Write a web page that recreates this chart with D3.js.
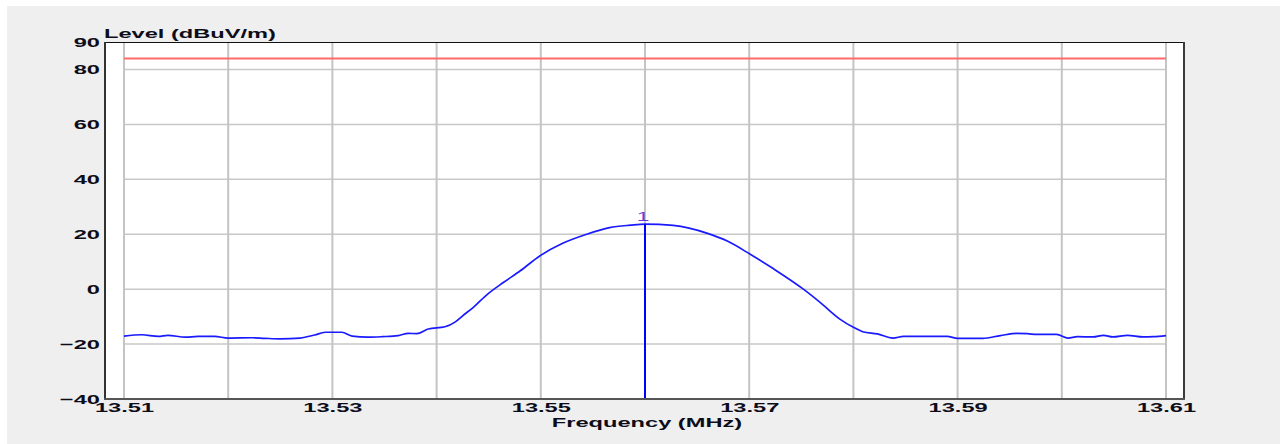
<!DOCTYPE html>
<html>
<head>
<meta charset="utf-8">
<script src="https://cdn.jsdelivr.net/npm/d3@7"></script>
<style>
  body { margin: 0; background: #fff; }
  svg { display: block; font-family: "Liberation Sans", Arial, sans-serif; }
  .tick-label { font-size: 13.5px; font-weight: bold; fill: #0d0d1a; }
</style>
</head>
<body>
<div id="chart"></div>
<script>
// measured trace, frequency in MHz / level in dBuV/m
var freqs = [13.5100, 13.5117, 13.5133, 13.5142, 13.5159, 13.5171, 13.5187, 13.5200, 13.5223, 13.5235,
    13.5250, 13.5269, 13.5283, 13.5293, 13.5309, 13.5319, 13.5334, 13.5348, 13.5363, 13.5373,
    13.5381, 13.5392, 13.5408, 13.5418, 13.5425, 13.5435, 13.5449, 13.5464, 13.5480, 13.5499,
    13.5521, 13.5544, 13.5566, 13.5586, 13.5600, 13.5627, 13.5660, 13.5679, 13.5701, 13.5723,
    13.5752, 13.5768, 13.5787, 13.5800, 13.5809, 13.5823, 13.5838, 13.5848, 13.5867, 13.5890,
    13.5900, 13.5924, 13.5941, 13.5957, 13.5967, 13.5976, 13.5995, 13.6006, 13.6015, 13.6030,
    13.6040, 13.6049, 13.6063, 13.6078, 13.6088, 13.6100];
var levels = [-17.1, -16.6, -17.2, -16.8, -17.5, -17.2, -17.2, -17.8, -17.7, -17.9,
    -18.1, -17.8, -16.7, -15.7, -15.7, -17.1, -17.5, -17.3, -16.9, -16.1,
    -16.2, -14.5, -13.7, -11.9, -9.7, -6.7, -1.8, 2.4, 6.6, 12.1,
    16.7, 20.0, 22.4, 23.3, 23.7, 23.2, 20.3, 17.5, 12.7, 7.5,
    0.0, -4.8, -10.9, -13.9, -15.5, -16.3, -17.8, -17.2, -17.2, -17.2,
    -17.9, -17.9, -16.9, -16.1, -16.2, -16.5, -16.5, -17.8, -17.3, -17.4,
    -16.8, -17.4, -16.8, -17.4, -17.3, -16.9];

var limitLevel = 84;
var markerFreq = 13.56, markerLevel = 23.7, markerName = '1';

var xTicks = [13.51, 13.52, 13.53, 13.54, 13.55, 13.56, 13.57, 13.58, 13.59, 13.60, 13.61];
var xLabels = [13.51, 13.53, 13.55, 13.57, 13.59, 13.61];
var yTicks = [90, 80, 60, 40, 20, 0, -20, -40];
var yGrid = [80, 60, 40, 20, 0, -20];

var W = 1280, H = 444;
var frame = {left: 104, right: 1185, top: 42, bottom: 399};
var stretch = 1.75; // text in the original is stretched sideways

var svg = d3.select('#chart')
    .append('svg')
    .attr('width', W)
    .attr('height', H);

svg.append('rect')
    .attr('x', 7).attr('y', 6)
    .attr('width', W - 7).attr('height', H - 6)
    .attr('fill', '#efefef');

var x = d3.scaleLinear()
    .domain([13.51, 13.61])
    .range([124, 1166]);

var y = d3.scaleLinear()
    .domain([-40, 90])
    .range([frame.bottom, frame.top]);

// plot area
svg.append('rect')
    .attr('x', frame.left).attr('y', frame.top)
    .attr('width', frame.right - frame.left).attr('height', frame.bottom - frame.top)
    .attr('fill', '#fff');

// grid
svg.append('g')
    .selectAll('line')
    .data(yGrid)
    .enter()
    .append('line')
    .attr('x1', x(13.51)).attr('x2', x(13.61))
    .attr('y1', function(d) { return y(d); })
    .attr('y2', function(d) { return y(d); })
    .attr('stroke', '#c8c8c8')
    .attr('stroke-width', 1.5);

svg.append('g')
    .selectAll('line')
    .data(xTicks)
    .enter()
    .append('line')
    .attr('x1', function(d) { return x(d); })
    .attr('x2', function(d) { return x(d); })
    .attr('y1', frame.top).attr('y2', frame.bottom)
    .attr('stroke', '#c4c4c4')
    .attr('stroke-width', 2);

// frame edges
svg.append('line')
    .attr('x1', frame.left).attr('x2', frame.right)
    .attr('y1', frame.top + 0.5).attr('y2', frame.top + 0.5)
    .attr('stroke', '#111').attr('stroke-width', 1);
svg.append('line')
    .attr('x1', frame.left + 1).attr('x2', frame.left + 1)
    .attr('y1', frame.top).attr('y2', frame.bottom + 1)
    .attr('stroke', '#333').attr('stroke-width', 2);
svg.append('line')
    .attr('x1', frame.right - 1).attr('x2', frame.right - 1)
    .attr('y1', frame.top).attr('y2', frame.bottom + 1)
    .attr('stroke', '#3a3a3a').attr('stroke-width', 2);
svg.append('line')
    .attr('x1', frame.left).attr('x2', frame.right)
    .attr('y1', frame.bottom).attr('y2', frame.bottom)
    .attr('stroke', '#555').attr('stroke-width', 2);

// limit line
svg.append('line')
    .attr('x1', x(13.51)).attr('x2', x(13.61))
    .attr('y1', y(limitLevel)).attr('y2', y(limitLevel))
    .attr('stroke', '#ff6a6a')
    .attr('stroke-width', 2);

// trace
var line = d3.line()
    .curve(d3.curveMonotoneX)
    .x(function(d) { return x(d[0]); })
    .y(function(d) { return y(d[1]); });

svg.append('path')
    .datum(d3.zip(freqs, levels))
    .attr('d', line)
    .attr('fill', 'none')
    .attr('stroke', '#1a1aff')
    .attr('stroke-width', 1.7);

// marker
svg.append('line')
    .attr('x1', x(markerFreq)).attr('x2', x(markerFreq))
    .attr('y1', y(markerLevel)).attr('y2', frame.bottom - 1)
    .attr('stroke', '#0000ff')
    .attr('stroke-width', 2);

svg.append('text')
    .attr('class', 'marker-label')
    .attr('x', x(markerFreq) - 2)
    .attr('y', y(markerLevel) - 3)
    .attr('text-anchor', 'middle')
    .attr('font-size', 13)
    .attr('fill', '#6a3ad8')
    .text(markerName);

// axes
var yAxis = d3.axisLeft(y)
    .tickValues(yTicks)
    .tickSize(0)
    .tickPadding(4)
    .tickFormat(d3.format('d'));

var gy = svg.append('g')
    .attr('transform', 'translate(' + frame.left + ',0)')
    .call(yAxis);

var xAxis = d3.axisBottom(x)
    .tickValues(xLabels)
    .tickSize(0)
    .tickPadding(4)
    .tickFormat(d3.format('.2f'));

var gx = svg.append('g')
    .attr('transform', 'translate(0,' + frame.bottom + ')')
    .call(xAxis);

[gx, gy].forEach(function(g) {
    g.select('.domain').remove();
    g.selectAll('text')
        .attr('class', 'tick-label')
        .attr('fill', null)
        .attr('font-size', null);
});
gx.selectAll('text').attr('dy', '0.7em');

svg.append('text')
    .attr('class', 'tick-label axis-title')
    .attr('x', frame.left)
    .attr('y', 38)
    .text('Level (dBuV/m)');

svg.append('text')
    .attr('class', 'tick-label axis-title')
    .attr('x', 647)
    .attr('y', 427)
    .attr('text-anchor', 'middle')
    .text('Frequency (MHz)');

svg.selectAll('.tick-label, .marker-label').each(function() {
    var w = this.getComputedTextLength();
    d3.select(this)
        .attr('textLength', w * stretch)
        .attr('lengthAdjust', 'spacingAndGlyphs');
});
</script>
</body>
</html>
